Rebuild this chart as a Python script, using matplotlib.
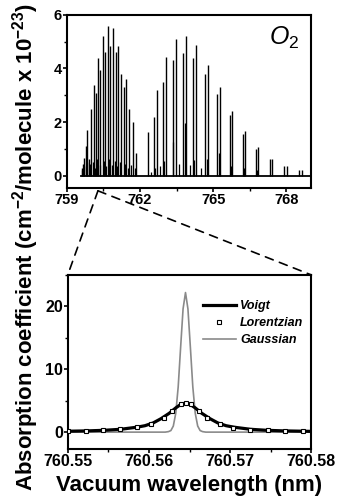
import matplotlib
matplotlib.use("Agg")
import matplotlib.pyplot as plt
from matplotlib.ticker import MultipleLocator, FormatStrFormatter
from matplotlib.patches import ConnectionPatch

plt.rcParams['font.family'] = ['Liberation Sans', 'DejaVu Sans']
plt.rcParams['font.weight'] = 'bold'
plt.rcParams['mathtext.fontset'] = 'custom'
plt.rcParams['mathtext.rm'] = 'Liberation Sans:weight=bold'
plt.rcParams['mathtext.bf'] = 'Liberation Sans:weight=bold'
plt.rcParams['mathtext.it'] = 'Liberation Sans:style=italic:weight=normal'
plt.rcParams['mathtext.sf'] = 'Liberation Sans:style=normal:weight=normal'

# ---------------- top panel: O2 A-band line strengths ----------------
r_branch_nm = [759.61, 759.66, 759.72, 759.78, 759.85, 759.92, 759.99, 760.13, 760.21,
               760.30, 760.38, 760.47, 760.57, 760.68, 760.78, 760.90, 761.00, 761.12,
               761.22, 761.33, 761.42, 761.56, 761.73, 761.84]
r_branch_s = [0.30, 0.45, 0.65, 1.10, 1.70, 0.60, 2.50, 3.40, 3.10,
              4.40, 3.95, 5.20, 4.60, 5.60, 4.85, 5.50, 4.60, 4.85,
              3.80, 3.30, 3.60, 2.50, 2.00, 0.85]
r_weak_nm = [759.64, 759.70, 759.82, 759.95, 760.09, 760.17, 760.26, 760.35, 760.52,
             760.63, 760.74, 760.85, 760.96, 761.08, 761.18, 761.38, 761.50, 761.64, 761.80]
r_weak_s = [0.20, 0.35, 0.50, 0.45, 0.50, 0.30, 0.60, 0.40, 0.55,
            0.35, 0.60, 0.40, 0.55, 0.35, 0.50, 0.45, 0.30, 0.40, 0.30]

p_branch_nm = [762.35, 762.56, 762.71, 762.95, 763.07, 763.35, 763.47, 763.77, 763.88,
               764.17, 764.28, 764.67, 764.78, 765.16, 765.27, 765.68, 765.79, 766.23,
               766.32, 766.76, 766.85, 767.33, 767.43, 767.92, 768.02, 768.54, 768.63]
p_branch_s = [1.64, 2.20, 3.20, 3.50, 4.42, 4.30, 5.10, 4.57, 5.22,
              4.38, 4.86, 3.80, 4.12, 3.05, 3.30, 2.25, 2.40, 1.56,
              1.65, 1.00, 1.05, 0.60, 0.63, 0.35, 0.36, 0.20, 0.21]
p_weak_nm = [762.45, 762.62, 762.82, 763.00, 763.37, 763.62, 763.85, 764.05, 764.22,
             764.50, 764.74, 765.25, 765.72, 766.28, 766.80]
p_weak_s = [0.15, 0.30, 0.35, 0.55, 1.27, 0.45, 1.95, 0.40, 0.58,
            0.30, 0.60, 0.83, 0.34, 0.30, 0.20]

baseline_nm = [759.6, 769.0]
baseline_s = [0.0, 0.0]

# ---------------- bottom panel: single line profiles ----------------
voigt_nm = [760.5500, 760.5525, 760.5545, 760.5565, 760.5585, 760.5595, 760.5605, 760.5615,
            760.5625, 760.5633, 760.5639, 760.5645, 760.5651, 760.5657, 760.5665, 760.5675,
            760.5685, 760.5695, 760.5705, 760.5725, 760.5745, 760.5765, 760.5800]
voigt_k = [0.14, 0.20, 0.29, 0.45, 0.78, 1.02, 1.45, 2.15,
           3.00, 3.85, 4.40, 4.62, 4.40, 3.85, 3.00, 2.15,
           1.45, 1.02, 0.78, 0.45, 0.29, 0.20, 0.12]

lorentz_nm = [760.5500, 760.5522, 760.5543, 760.5564, 760.5585, 760.5602, 760.5618, 760.5628,
              760.5640, 760.5646, 760.5652, 760.5662, 760.5672, 760.5688, 760.5704, 760.5725,
              760.5746, 760.5768, 760.5790]
lorentz_k = [0.15, 0.22, 0.30, 0.45, 0.82, 1.33, 2.28, 3.42,
             4.45, 4.62, 4.45, 3.35, 2.23, 1.22, 0.70, 0.40,
             0.28, 0.20, 0.15]

gauss_nm = [760.5500, 760.5620, 760.5624, 760.5627, 760.5630, 760.5633, 760.5636, 760.5639,
            760.5642, 760.5645, 760.5648, 760.5651, 760.5654, 760.5657, 760.5660, 760.5663,
            760.5666, 760.5670, 760.5800]
gauss_k = [0.0, 0.0, 0.08, 0.25, 0.97, 3.00, 7.20, 13.5,
           19.6, 22.2, 19.6, 13.5, 7.20, 3.00, 0.97, 0.25,
           0.08, 0.0, 0.0]

fig = plt.figure(figsize=(3.37, 4.99), dpi=100)
ax1 = fig.add_axes([0.198, 0.623, 0.724, 0.347])
ax2 = fig.add_axes([0.201, 0.100, 0.723, 0.349])

# top panel
ax1.vlines(r_weak_nm, 0, r_weak_s, color='black', lw=0.9)
ax1.vlines(p_weak_nm, 0, p_weak_s, color='black', lw=0.9)
ax1.vlines(r_branch_nm, 0, r_branch_s, color='black', lw=1.0)
ax1.vlines(p_branch_nm, 0, p_branch_s, color='black', lw=1.0)
ax1.plot(baseline_nm, baseline_s, color='black', lw=1.3)
ax1.set_xlim(759, 769)
ax1.set_ylim(-0.47, 6)
ax1.xaxis.set_major_locator(MultipleLocator(3))
ax1.xaxis.set_minor_locator(MultipleLocator(1.5))
ax1.yaxis.set_major_locator(MultipleLocator(2))
ax1.yaxis.set_minor_locator(MultipleLocator(1))
ax1.text(0.955, 0.87, r'$\mathit{O}_{\mathsf{2}}$', transform=ax1.transAxes,
         ha='right', va='center', fontsize=18, fontweight='normal')

# bottom panel
ax2.plot(voigt_nm, voigt_k, color='black', lw=2.3, label='Voigt', zorder=3)
ax2.plot(lorentz_nm, lorentz_k, ls='none', marker='s', ms=3.4, mfc='white',
         mec='black', mew=0.8, label='Lorentzian', zorder=4)
ax2.plot(gauss_nm, gauss_k, color='#8a8a8a', lw=1.2, label='Gaussian', zorder=2)
ax2.set_xlim(760.55, 760.58)
ax2.set_ylim(-2.7, 25)
ax2.xaxis.set_major_locator(MultipleLocator(0.01))
ax2.xaxis.set_minor_locator(MultipleLocator(0.005))
ax2.xaxis.set_major_formatter(FormatStrFormatter('%.2f'))
ax2.yaxis.set_major_locator(MultipleLocator(10))
ax2.yaxis.set_minor_locator(MultipleLocator(5))
leg = ax2.legend(loc='upper left', bbox_to_anchor=(0.53, 0.89), frameon=False,
                 prop={'style': 'italic', 'weight': 'bold', 'size': 9},
                 handlelength=2.6, handletextpad=0.35, labelspacing=0.4, borderpad=0)

for ax, ls in ((ax1, 10.5), (ax2, 11.5)):
    for s in ax.spines.values():
        s.set_linewidth(1.5)
    ax.tick_params(which='major', direction='out', length=3, width=1.2,
                   labelsize=ls, pad=0.5)
    ax.tick_params(which='minor', direction='out', length=2, width=1.0)

# zoom connector dashed lines
for corner in [(0, 1), (1, 1)]:
    con = ConnectionPatch(xyA=(760.28, -0.57), coordsA=ax1.transData,
                          xyB=corner, coordsB=ax2.transAxes,
                          color='black', lw=1.2, ls=(0, (5, 4)))
    fig.add_artist(con)

fig.text(0.077, 0.505,
         r'Absorption coefficient (cm$^{\mathbf{-2}}$/molecule x 10$^{\mathbf{-23}}$)',
         rotation=90, ha='center', va='center', fontsize=16, fontweight='bold')
fig.text(0.56, 0.027, 'Vacuum wavelength (nm)', ha='center', va='center',
         fontsize=16, fontweight='bold')

fig.savefig('out.png', dpi=100)
